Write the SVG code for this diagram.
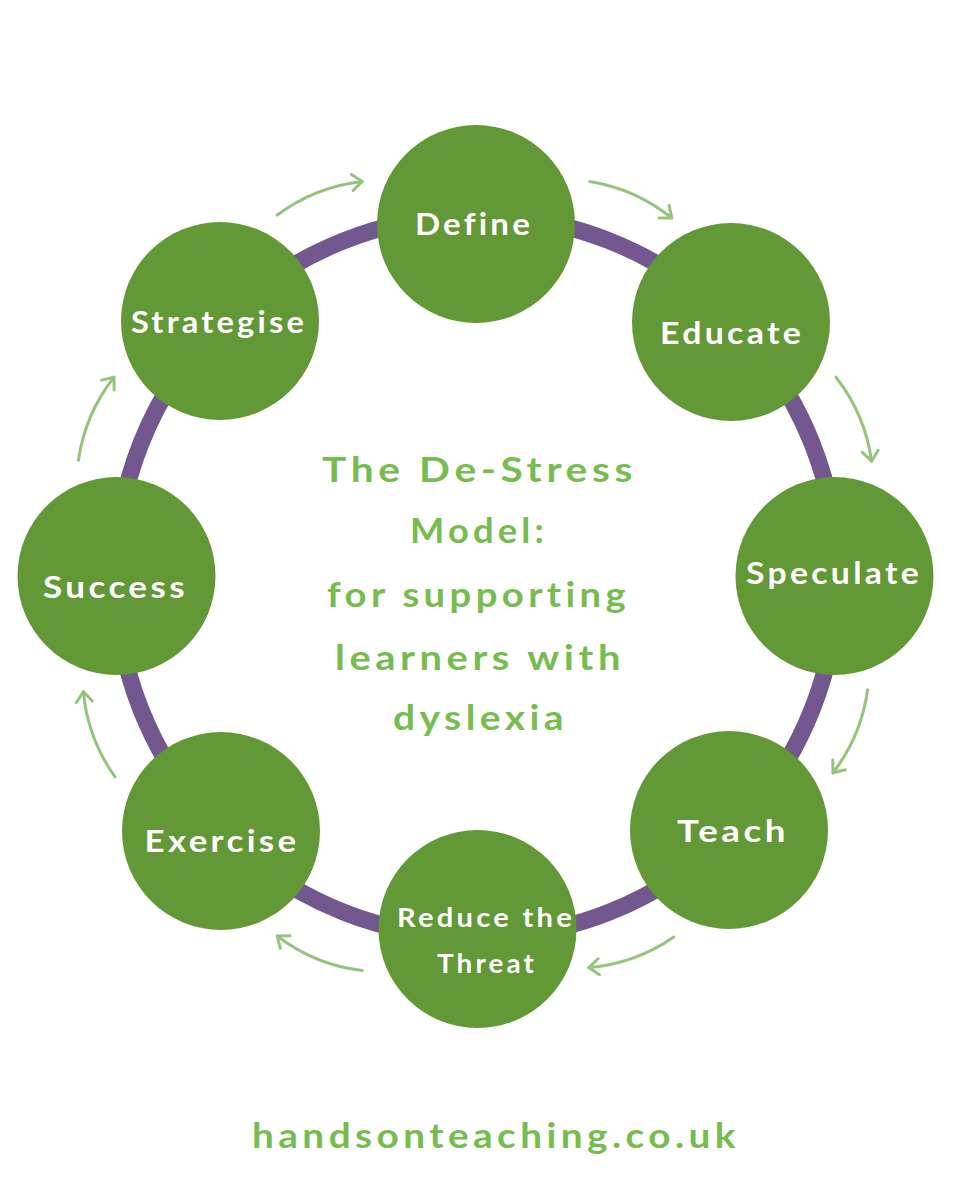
<svg xmlns="http://www.w3.org/2000/svg" width="960" height="1200" viewBox="0 0 960 1200">
  <style>
    .node { fill: #629836; }
    .lbl { fill: #ffffff; font-family: "Comic Sans MS", Lato, "Open Sans", sans-serif; font-weight: 700; font-size: 31px; text-anchor: middle; letter-spacing: 3px; font-variant-ligatures: none; }
    .lbl-s { font-size: 27px; }
    .title { fill: #77bc4f; font-family: "Comic Sans MS", Lato, "Open Sans", sans-serif; font-weight: 700; font-size: 35px; text-anchor: middle; letter-spacing: 4px; font-variant-ligatures: none; }
    .arrow { fill: none; stroke: #95c47f; stroke-width: 3; stroke-linecap: round; marker-end: url(#ah); }
  </style>
  <defs>
    <marker id="ah" viewBox="-13 -10 15 20" markerWidth="15" markerHeight="20" refX="0" refY="0" orient="auto" markerUnits="userSpaceOnUse">
      <path d="M-10,-8 L0,0 L-10,8" fill="none" stroke="#95c47f" stroke-width="3" stroke-linecap="round" stroke-linejoin="round"/>
    </marker>
  </defs>
  <rect width="960" height="1200" fill="#ffffff"/>

  <g id="ring">
    <circle cx="476.5" cy="576.5" r="361" fill="none" stroke="#72588e" stroke-width="17"/>
  </g>

  <g id="connectors">
    <path class="arrow" d="M277.2,215.0 A175,175 0 0 1 362.2,181.4"/>
    <path class="arrow" d="M589.8,181.4 A175,175 0 0 1 671.8,218.0"/>
    <path class="arrow" d="M836.0,377.2 A175,175 0 0 1 871.6,461.2"/>
    <path class="arrow" d="M867.6,689.8 A175,175 0 0 1 833.0,772.8"/>
    <path class="arrow" d="M673.8,937.0 A175,175 0 0 1 588.8,967.6"/>
    <path class="arrow" d="M362.2,970.6 A175,175 0 0 1 277.2,936.0"/>
    <path class="arrow" d="M115.0,776.8 A175,175 0 0 1 83.4,691.8"/>
    <path class="arrow" d="M78.4,460.2 A175,175 0 0 1 114.0,377.2"/>
  </g>

  <g id="define">
    <circle class="node" cx="476" cy="224" r="99"/>
    <text class="lbl" x="474" y="235" textLength="118" lengthAdjust="spacingAndGlyphs">Define</text>
  </g>
  <g id="educate">
    <circle class="node" cx="731" cy="322" r="99"/>
    <text class="lbl" x="732" y="344" textLength="144" lengthAdjust="spacingAndGlyphs">Educate</text>
  </g>
  <g id="speculate">
    <circle class="node" cx="834.5" cy="576" r="99"/>
    <text class="lbl" x="834" y="584" textLength="176" lengthAdjust="spacingAndGlyphs">Speculate</text>
  </g>
  <g id="teach">
    <circle class="node" cx="729" cy="830" r="99"/>
    <text class="lbl" x="733" y="842" textLength="112" lengthAdjust="spacingAndGlyphs">Teach</text>
  </g>
  <g id="reduce-the-threat">
    <circle class="node" cx="477.5" cy="929" r="99"/>
    <text class="lbl lbl-s" x="486" y="927" textLength="178" lengthAdjust="spacingAndGlyphs">Reduce the</text>
    <text class="lbl lbl-s" x="487" y="973" textLength="100" lengthAdjust="spacingAndGlyphs">Threat</text>
  </g>
  <g id="exercise">
    <circle class="node" cx="221" cy="831" r="99"/>
    <text class="lbl" x="222" y="852" textLength="155" lengthAdjust="spacingAndGlyphs">Exercise</text>
  </g>
  <g id="success">
    <circle class="node" cx="116.5" cy="576" r="99"/>
    <text class="lbl" x="115.5" y="598" textLength="145" lengthAdjust="spacingAndGlyphs">Success</text>
  </g>
  <g id="strategise">
    <circle class="node" cx="220" cy="321" r="99"/>
    <text class="lbl" x="219" y="333" textLength="176" lengthAdjust="spacingAndGlyphs">Strategise</text>
  </g>

  <g id="title">
    <text class="title" x="479.5" y="482" textLength="315" lengthAdjust="spacingAndGlyphs">The De-Stress</text>
    <text class="title" x="479" y="543" textLength="138" lengthAdjust="spacingAndGlyphs">Model:</text>
    <text class="title" x="478.5" y="607" textLength="303" lengthAdjust="spacingAndGlyphs">for supporting</text>
    <text class="title" x="480" y="670" textLength="290" lengthAdjust="spacingAndGlyphs">learners with</text>
    <text class="title" x="480.5" y="730" textLength="175" lengthAdjust="spacingAndGlyphs">dyslexia</text>
  </g>

  <g id="footer">
    <text class="title" x="496" y="1148" textLength="488" lengthAdjust="spacingAndGlyphs">handsonteaching.co.uk</text>
  </g>
</svg>
